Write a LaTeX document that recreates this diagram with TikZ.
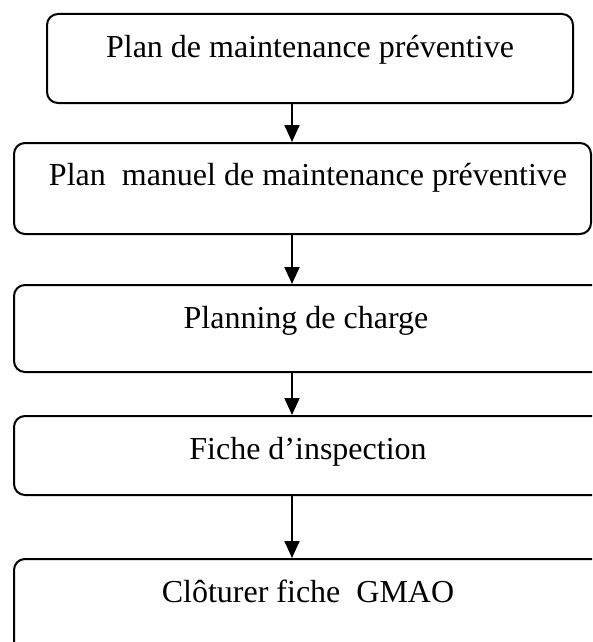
\documentclass[tikz,border=0pt]{standalone}
\usepackage{fontspec}
\setmainfont{Liberation Serif}
\usetikzlibrary{arrows.meta}
\begin{document}
\begin{tikzpicture}[x=1pt,y=-1pt,
  stagebox/.style={draw=black, line width=2pt, rounded corners=11pt,
    rectangle, inner sep=0pt},
  stagetext/.style={anchor=base, inner sep=0pt,
    font=\fontsize{32}{38}\selectfont},
  flow/.style={draw=black, line width=2pt,
    -{Triangle[width=15pt,length=17pt]}}]
  \useasboundingbox (0,0) rectangle (592,642);
  \clip (0,0) rectangle (592,642);
  % process stages
  \node[stagebox, minimum width=526pt, minimum height=89pt] (b1) at (310,58.5) {};
  \node[stagebox, minimum width=577pt, minimum height=91pt] (b2) at (302.5,188.5) {};
  \node[stagebox, minimum width=596pt, minimum height=87pt] (b3) at (312,328.5) {};
  \node[stagebox, minimum width=596pt, minimum height=79pt] (b4) at (312,455.5) {};
  \node[stagebox, minimum width=596pt, minimum height=100pt] (b5) at (312,609) {};
  % labels
  \node[stagetext] (t1) at (310,57) {Plan de maintenance préventive};
  \node[stagetext] (t2) at (308,185) {Plan~ manuel de maintenance préventive};
  \node[stagetext] (t3) at (306,328) {Planning de charge};
  \node[stagetext] (t4) at (308,459) {Fiche d’inspection};
  \node[stagetext] (t5) at (308,602) {Clôturer fiche~ GMAO};
  % connectors
  \coordinate (ax) at (292,0);
  \draw[flow] (b1.south -| ax) -- (b2.north -| ax);
  \draw[flow] (b2.south -| ax) -- (b3.north -| ax);
  \draw[flow] (b3.south -| ax) -- (b4.north -| ax);
  \draw[flow] (b4.south -| ax) -- (b5.north -| ax);
\end{tikzpicture}
\end{document}
